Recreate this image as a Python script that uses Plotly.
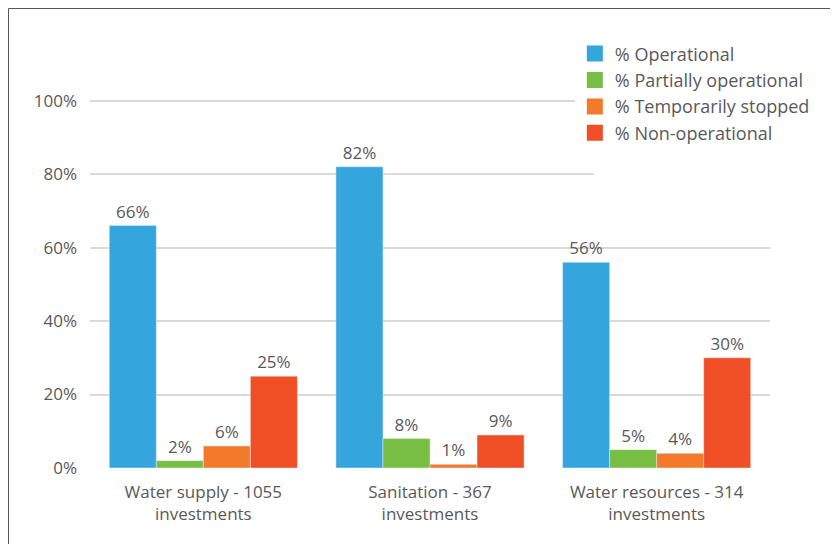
import plotly.graph_objects as go

# data
categories = ['Water supply - 1055<br>investments', 'Sanitation - 367<br>investments',
              'Water resources - 314<br>investments']
series_names = ['% Operational', '% Partially operational', '% Temporarily stopped', '% Non-operational']
operational = [66, 82, 56]
partially = [2, 8, 5]
temp_stopped = [6, 1, 4]
non_operational = [25, 9, 30]
colors = ['#35a5dd', '#78be43', '#f27a2a', '#f04e24']
ytick_vals = [0, 20, 40, 60, 80, 100]
ytick_text = ['0%', '20%', '40%', '60%', '80%', '100%']

values = [operational, partially, temp_stopped, non_operational]
font_fam = 'Open Sans'
grey = '#595959'

# figure sits at 8px offset (body margin) in the page
W, H = 830, 536
ML, MT, PW, PH = 82, 89, 680, 371

data = []
for name, vals, col in zip(series_names, values, colors):
    data.append(go.Bar(
        x=categories, y=vals, name=name, marker_color=col,
        text=[f'{v}%' for v in vals], textposition='outside',
        textfont=dict(color=grey, size=17, family=font_fam),
        cliponaxis=False, showlegend=False,
    ))
# legend entries with bigger squares
for name, col in zip(series_names, colors):
    data.append(go.Scatter(
        x=[None], y=[None], mode='markers', name=name,
        marker=dict(symbol='square', size=16, color=col),
    ))

layout = go.Layout(
    width=W, height=H,
    margin=dict(l=ML, r=W - ML - PW, t=MT, b=H - MT - PH),
    barmode='group', bargap=0.17, bargroupgap=0,
    plot_bgcolor='white', paper_bgcolor='white',
    font=dict(family=font_fam, color=grey, size=17),
    xaxis=dict(showgrid=False, zeroline=False, showline=False, automargin=False,
               ticklabelstandoff=12,
               tickfont=dict(size=17, color=grey, family=font_fam)),
    yaxis=dict(range=[0, 101], tickvals=ytick_vals, ticktext=ytick_text,
               showgrid=True, gridcolor='#d9d9d9', gridwidth=1.5, zeroline=False,
               automargin=False, ticklabelstandoff=12,
               tickfont=dict(size=17, color=grey, family=font_fam)),
    legend=dict(x=0.713, y=1.166, xanchor='left', yanchor='top', bgcolor='white',
                font=dict(size=18, color=grey, family=font_fam),
                tracegroupgap=0, itemsizing='trace'),
    shapes=[
        # white legend area hides the gridlines behind it
        go.layout.Shape(type='rect', xref='paper', yref='paper', layer='above',
                        x0=(586 - ML) / PW, x1=1.05,
                        y0=1 - (172 - MT) / PH, y1=1.15,
                        fillcolor='white', line=dict(width=0)),
        go.layout.Shape(type='rect', xref='paper', yref='paper',
                        x0=(0.5 - ML) / PW, x1=(825 - ML) / PW,
                        y0=-0.3, y1=1 + (MT - 0.5) / PH,
                        line=dict(color='#555555', width=1)),
    ],
)

fig = go.Figure(data=data, layout=layout)
fig.write_html("out.html")
